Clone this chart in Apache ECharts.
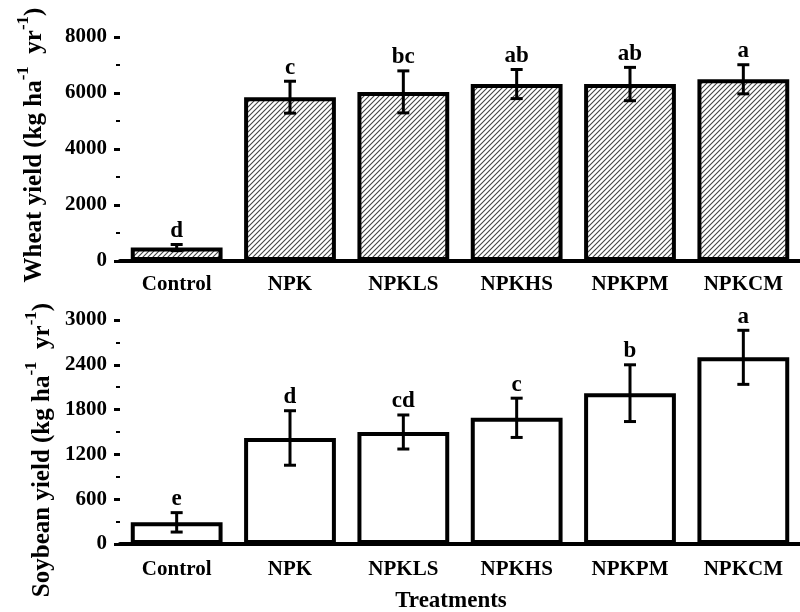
<!DOCTYPE html>
<html>
<head>
<meta charset="utf-8">
<script src="https://cdn.jsdelivr.net/npm/echarts@6/dist/echarts.min.js"></script>
<style>
  html, body { margin: 0; padding: 0; background: #fff; }
  #main { width: 800px; height: 612px; }
</style>
</head>
<body>
<div id="main"></div>
<script>
// treatments
const treatments = ["Control", "NPK", "NPKLS", "NPKHS", "NPKPM", "NPKCM"];

// wheat yield (kg ha-1 yr-1)
const wheatMean = [480, 5850, 6040, 6320, 6320, 6490];
const wheatErr = [110, 570, 750, 520, 595, 520];
const wheatLetters = ["d", "c", "bc", "ab", "ab", "a"];

// soybean yield (kg ha-1 yr-1)
const soyMean = [290, 1420, 1500, 1690, 2020, 2500];
const soyErr = [130, 365, 228, 263, 380, 362];
const soyLetters = ["e", "d", "cd", "c", "b", "a"];

const FONT = "Liberation Serif";

// diagonal hatch for wheat bars
const makeHatch = () => {
    const c = document.createElement("canvas");
    const s = 5;
    c.width = s;
    c.height = s;
    const ctx = c.getContext("2d");
    ctx.fillStyle = "#fff";
    ctx.fillRect(0, 0, s, s);
    ctx.strokeStyle = "#444";
    ctx.lineWidth = 1.1;
    ctx.beginPath();
    ctx.moveTo(-1, s + 1);
    ctx.lineTo(s + 1, -1);
    ctx.moveTo(-1, 1);
    ctx.lineTo(1, -1);
    ctx.moveTo(s - 1, s + 1);
    ctx.lineTo(s + 1, s - 1);
    ctx.stroke();
    return c;
};

const axisCommon = {
    axisLine: { lineStyle: { color: "#000", width: 4 } },
    axisLabel: { color: "#000", fontFamily: FONT, fontWeight: "bold", fontSize: 21 },
};

const xAxisOf = (gridIndex, margin) => ({
    type: "category",
    gridIndex,
    data: treatments,
    axisTick: { alignWithLabel: true, length: 6, lineStyle: { color: "#000", width: 3 } },
    ...axisCommon,
    axisLabel: { ...axisCommon.axisLabel, margin },
});

const yAxisOf = (gridIndex, max, interval) => ({
    type: "value",
    gridIndex,
    min: 0,
    max,
    interval,
    splitLine: { show: false },
    axisTick: { show: true, length: 6, lineStyle: { color: "#000", width: 3 } },
    minorTick: { show: true, splitNumber: 2, length: 4, lineStyle: { color: "#000", width: 2 } },
    ...axisCommon,
    axisLabel: { ...axisCommon.axisLabel, margin: 13, formatter: (v) => String(v) },
});

// error bars + significance letters
const errorSeries = (idx, mean, err, letters) => ({
    type: "custom",
    xAxisIndex: idx,
    yAxisIndex: idx,
    data: mean.map((m, i) => [i, m, err[i]]),
    z: 5,
    renderItem: (params, api) => {
        const i = api.value(0);
        const m = api.value(1);
        const e = api.value(2);
        const top = api.coord([i, m + e]);
        const bot = api.coord([i, m - e]);
        const w = 6;
        const ls = { stroke: "#000", lineWidth: 3 };
        return {
            type: "group",
            children: [
                { type: "line", shape: { x1: top[0], y1: top[1], x2: bot[0], y2: bot[1] }, style: ls },
                { type: "line", shape: { x1: top[0] - w, y1: top[1], x2: top[0] + w, y2: top[1] }, style: ls },
                { type: "line", shape: { x1: bot[0] - w, y1: bot[1], x2: bot[0] + w, y2: bot[1] }, style: ls },
                {
                    type: "text",
                    x: top[0],
                    y: top[1] - 2,
                    style: {
                        text: letters[i],
                        fill: "#000",
                        font: "bold 23px " + FONT,
                        align: "center",
                        verticalAlign: "bottom",
                    },
                },
            ],
        };
    },
});

const nameRich = {
    n: { fontFamily: FONT, fontWeight: "bold", fontSize: 25, lineHeight: 32, verticalAlign: "bottom", fill: "#000" },
    s: { fontFamily: FONT, fontWeight: "bold", fontSize: 17, lineHeight: 32, verticalAlign: "top", fill: "#000" },
};

const chart = echarts.init(document.getElementById("main"), null, { renderer: "canvas" });
chart.setOption({
    animation: false,
    backgroundColor: "#fff",
    grid: [
        { left: 120, top: 37, width: 687, height: 224 },
        { left: 120, top: 320, width: 687, height: 224 },
    ],
    xAxis: [xAxisOf(0, 13), xAxisOf(1, 15)],
    yAxis: [yAxisOf(0, 8000, 2000), yAxisOf(1, 3000, 600)],
    series: [
        {
            type: "bar",
            xAxisIndex: 0,
            yAxisIndex: 0,
            data: wheatMean,
            barCategoryGap: "19%",
            itemStyle: {
                color: { image: makeHatch(), repeat: "repeat" },
                borderColor: "#000",
                borderWidth: 4,
            },
        },
        errorSeries(0, wheatMean, wheatErr, wheatLetters),
        {
            type: "bar",
            xAxisIndex: 1,
            yAxisIndex: 1,
            data: soyMean,
            barCategoryGap: "19%",
            itemStyle: { color: "#fff", borderColor: "#000", borderWidth: 4 },
        },
        errorSeries(1, soyMean, soyErr, soyLetters),
    ],
    graphic: [
        {
            type: "text",
            x: 31,
            y: 145,
            rotation: Math.PI / 2,
            style: {
                text: "{n|Wheat yield (kg ha}{s|-1}{n|  yr}{s|-1}{n|)}",
                rich: nameRich,
                align: "center",
                verticalAlign: "middle",
            },
        },
        {
            type: "text",
            x: 39,
            y: 450,
            rotation: Math.PI / 2,
            style: {
                text: "{n|Soybean yield (kg ha}{s|-1}{n|  yr}{s|-1}{n|)}",
                rich: nameRich,
                align: "center",
                verticalAlign: "middle",
            },
        },
        {
            type: "text",
            x: 451,
            y: 601,
            style: {
                text: "Treatments",
                font: "bold 23px " + FONT,
                fill: "#000",
                align: "center",
                verticalAlign: "middle",
            },
        },
    ],
});
</script>
</body>
</html>
